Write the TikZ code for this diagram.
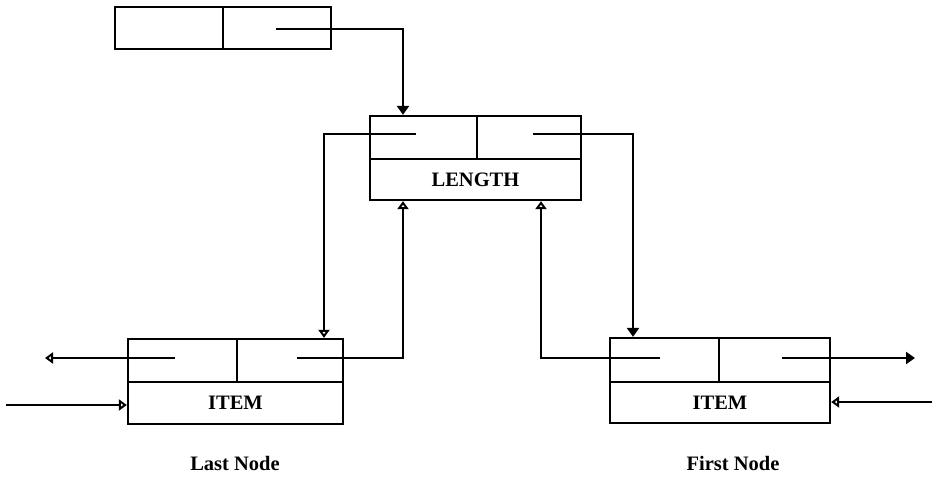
\documentclass[tikz,border=0pt]{standalone}
\usepackage{fontspec}
\setmainfont{Liberation Serif}
\usetikzlibrary{arrows.meta}
\begin{document}
\begin{tikzpicture}[x=1pt,y=-1pt,
  cell/.style={draw, line width=2.3pt, rectangle, inner sep=0pt, font=\fontsize{20.5}{24}\selectfont\bfseries},
  lbl/.style={font=\fontsize{20.5}{24}\selectfont\bfseries, inner sep=0pt},
  link/.style={line width=2.3pt},
  fullhead/.style={link, -{Triangle[length=9pt,width=12pt]}},
  openhead/.style={link, -{Triangle[open,length=8pt,width=11pt,line width=2.3pt]}}
]
\useasboundingbox (0,0) rectangle (937,479);
% top record
\node[cell, minimum width=108pt, minimum height=42pt] (t1) at (169,28) {};
\node[cell, minimum width=108pt, minimum height=42pt] (t2) at (277,28) {};
% LENGTH record
\node[cell, minimum width=107pt, minimum height=43pt] (l1) at (423.5,137.5) {};
\node[cell, minimum width=104pt, minimum height=43pt] (l2) at (529,137.5) {};
\node[cell, minimum width=211pt, minimum height=41pt] (lb) at (475.5,179.5) {LENGTH};
% Last node
\node[cell, minimum width=109pt, minimum height=43pt] (a1) at (182.5,360.5) {};
\node[cell, minimum width=106pt, minimum height=43pt] (a2) at (290,360.5) {};
\node[cell, minimum width=215pt, minimum height=42pt] (ab) at (235.5,403) {ITEM};
\node[lbl] (alab) at (235,463) {Last Node};
% First node
\node[cell, minimum width=109pt, minimum height=44pt] (b1) at (664.5,360) {};
\node[cell, minimum width=111pt, minimum height=44pt] (b2) at (774.5,360) {};
\node[cell, minimum width=220pt, minimum height=41pt] (bb) at (720,402.5) {ITEM};
\node[lbl] (blab) at (733,463) {First Node};
% pointer stubs and ends
\coordinate (ts) at (276,29);
\coordinate (ls) at (416,134);
\coordinate (rs) at (533,134);
\coordinate (as1) at (175,358);
\coordinate (as2) at (297,358);
\coordinate (bs1) at (660,358);
\coordinate (bs2) at (782,358);
\coordinate (aout) at (45,358);
\coordinate (bout) at (915,358);
\coordinate (ain) at (6,405);
\coordinate (bin) at (932,402);
% connectors
\draw[fullhead] (ts) -| (l1.north -| 403,0);
\draw[openhead] (ls) -| (a2.north -| 324,0);
\draw[fullhead] (rs) -| (b1.north -| 633,0);
\draw[openhead] (as2) -| (lb.south -| 403,0);
\draw[openhead] (bs1) -| (lb.south -| 541,0);
\draw[openhead] (as1) -- (aout);
\draw[fullhead] (bs2) -- (bout);
\draw[openhead] (ain) -- (ain -| ab.west);
\draw[openhead] (bin) -- (bin -| bb.east);
\end{tikzpicture}
\end{document}
